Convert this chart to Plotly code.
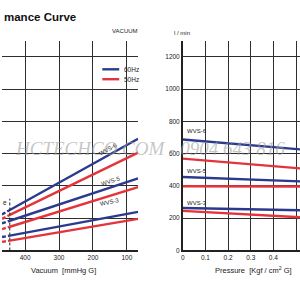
import plotly.graph_objects as go

# ---- data ----
vacuum_pts = [445, 67]          # mmHg G (solid portion)
vacuum_ext = [468, 445]         # dashed portion left of the marker line
pressure_pts = [0, 0.52]        # Kgf/cm2 G

models = ["WVS-6", "WVS-5", "WVS-3"]
vac_60 = {"WVS-6": [251, 692], "WVS-5": [184, 447], "WVS-3": [92, 239]}
vac_50 = {"WVS-6": [220, 606], "WVS-5": [147, 392], "WVS-3": [61, 196]}
vac_60_ext = {"WVS-6": [223, 251], "WVS-5": [168, 184], "WVS-3": [83, 92]}
vac_50_ext = {"WVS-6": [196, 220], "WVS-5": [132, 147], "WVS-3": [53, 61]}
prs_60 = {"WVS-6": [687, 626], "WVS-5": [455, 428], "WVS-3": [263, 249]}
prs_50 = {"WVS-6": [569, 508], "WVS-5": [398, 396], "WVS-3": [245, 206]}

vac_ticks = [400, 300, 200, 100]
prs_ticks = [0, 0.1, 0.2, 0.3, 0.4, 0.5]
flow_ticks = [0, 200, 400, 600, 800, 1000, 1200]
marker_vacuum = 445
marker_top = 320

BLUE = "#2c3a8e"
RED = "#e2343a"
GRID = "#2e2e2e"
FONT = "Liberation Sans Narrow, Liberation Sans, Arial"

fig = go.Figure()

for m in models:
    fig.add_trace(go.Scatter(x=vacuum_pts, y=vac_60[m], mode="lines",
                             line=dict(color=BLUE, width=2.4), xaxis="x", yaxis="y", showlegend=False))
    fig.add_trace(go.Scatter(x=vacuum_pts, y=vac_50[m], mode="lines",
                             line=dict(color=RED, width=2.4), xaxis="x", yaxis="y", showlegend=False))
    fig.add_trace(go.Scatter(x=vacuum_ext, y=vac_60_ext[m], mode="lines",
                             line=dict(color=BLUE, width=2.4, dash="4px,2px"), xaxis="x", yaxis="y", showlegend=False))
    fig.add_trace(go.Scatter(x=vacuum_ext, y=vac_50_ext[m], mode="lines",
                             line=dict(color=RED, width=2.4, dash="4px,2px"), xaxis="x", yaxis="y", showlegend=False))
    fig.add_trace(go.Scatter(x=pressure_pts, y=prs_60[m], mode="lines",
                             line=dict(color=BLUE, width=2.4), xaxis="x2", yaxis="y2", showlegend=False))
    fig.add_trace(go.Scatter(x=pressure_pts, y=prs_50[m], mode="lines",
                             line=dict(color=RED, width=2.4), xaxis="x2", yaxis="y2", showlegend=False))

# dashed marker line on vacuum panel
fig.add_trace(go.Scatter(x=[marker_vacuum, marker_vacuum], y=[0, marker_top], mode="lines",
                         line=dict(color="#222", width=1, dash="3px,2px"),
                         xaxis="x", yaxis="y", showlegend=False, hoverinfo="skip"))

ydom = [47 / 300, 1 - 41 / 300]
axis_common = dict(showgrid=True, gridcolor=GRID, gridwidth=1, zeroline=False,
                   tickfont=dict(family=FONT, size=6.5, color="#222"))
fig.update_layout(
    width=300, height=300,
    margin=dict(l=0, r=0, t=0, b=0),
    paper_bgcolor="white", plot_bgcolor="white",
    xaxis=dict(domain=[0, 137 / 300], range=[468, 67], tickvals=vac_ticks,
               showline=True, linecolor="#222", linewidth=1.5, ticks="", anchor="y", **axis_common),
    yaxis=dict(domain=ydom, range=[0, 1300], tickvals=flow_ticks, showticklabels=False,
               showline=False, anchor="x", **axis_common),
    xaxis2=dict(domain=[182 / 300, 1], range=[0, 0.5175], tickvals=prs_ticks,
                ticktext=["0", "0.1", "0.2", "0.3", "0.4", "0.5"],
                showline=True, linecolor="#222", linewidth=1.5, ticks="", anchor="y2", **axis_common),
    yaxis2=dict(domain=ydom, range=[0, 1300], tickvals=flow_ticks,
                showline=True, linecolor="#222", linewidth=1.5, ticks="", anchor="x2", **axis_common),
)

def py(p):
    return 1 - p / 300

def px(p):
    return p / 300

ann = []
# title, cropped
ann.append(dict(x=0, y=py(17), xref="paper", yref="paper", text="<b>mance Curve</b>", showarrow=False,
                xanchor="left", yanchor="middle", font=dict(family="Liberation Sans, Arial", size=11.5, color="#111")))
ann.append(dict(x=px(139), y=py(31), xref="paper", yref="paper", text="VACUUM", showarrow=False,
                xanchor="right", yanchor="middle", font=dict(family=FONT, size=6, color="#222")))
ann.append(dict(x=px(181), y=py(33), xref="paper", yref="paper", text="l / min", showarrow=False,
                xanchor="center", yanchor="middle", font=dict(family=FONT, size=6, color="#222")))
ann.append(dict(x=px(62), y=py(273), xref="paper", yref="paper", text="Vacuum  [mmHg G]", showarrow=False,
                xanchor="center", yanchor="middle", font=dict(family=FONT, size=7.5, color="#222")))
ann.append(dict(x=px(253), y=py(273), xref="paper", yref="paper", text="Pressure  [Kgf / cm<sup>2</sup> G]",
                showarrow=False, xanchor="center", yanchor="middle", font=dict(family=FONT, size=7.5, color="#222")))
ann.append(dict(x=px(3.5), y=py(205), xref="paper", yref="paper", text="e", showarrow=False,
                xanchor="center", yanchor="middle", font=dict(family=FONT, size=6.5, color="#222")))
# legend
ann.append(dict(x=px(121), y=py(70), xref="paper", yref="paper", text="60Hz", showarrow=False,
                xanchor="left", yanchor="middle", font=dict(family=FONT, size=6.5, color="#222")))
ann.append(dict(x=px(121), y=py(80), xref="paper", yref="paper", text="50Hz", showarrow=False,
                xanchor="left", yanchor="middle", font=dict(family=FONT, size=6.5, color="#222")))
# curve labels on vacuum panel (rotated)
ann.append(dict(x=px(107), y=py(150), xref="paper", yref="paper", text="WVS-6", showarrow=False, textangle=-29,
                font=dict(family=FONT, size=6, color="#222")))
ann.append(dict(x=px(110), y=py(183), xref="paper", yref="paper", text="WVS-5", showarrow=False, textangle=-17,
                font=dict(family=FONT, size=6, color="#222")))
ann.append(dict(x=px(109), y=py(212), xref="paper", yref="paper", text="WVS-3", showarrow=False, textangle=-12,
                font=dict(family=FONT, size=6, color="#222")))
# curve labels on pressure panel
for lab, yy in zip(models, [132, 173, 205]):
    ann.append(dict(x=px(184), y=py(yy), xref="paper", yref="paper", text=lab, showarrow=False,
                    xanchor="left", yanchor="middle", font=dict(family=FONT, size=6, color="#222")))
# watermark
ann.append(dict(x=px(149), y=py(150), xref="paper", yref="paper", text="HCTECHCO.COM - 0904 643 816",
                showarrow=False, xanchor="center", yanchor="middle",
                font=dict(family="Liberation Serif, DejaVu Serif", size=19, color="rgba(160,160,160,0.6)",
                          style="italic")))
fig.update_layout(annotations=ann)

fig.add_shape(type="line", xref="paper", yref="paper", x0=px(101), x1=px(118), y0=py(70), y1=py(70),
              line=dict(color=BLUE, width=2.4))
fig.add_shape(type="line", xref="paper", yref="paper", x0=px(101), x1=px(118), y0=py(80), y1=py(80),
              line=dict(color=RED, width=2.4))

fig.write_html("out.html")
